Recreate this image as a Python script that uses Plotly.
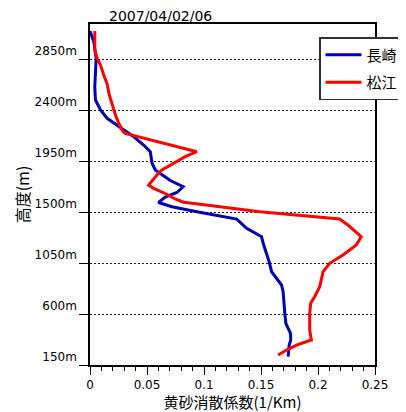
import plotly.graph_objects as go

# 長崎 (Nagasaki) profile: height (m) and extinction coefficient (1/Km)
nagasaki_height = [3097, 3003, 2856, 2606, 2488, 2400, 2327, 2268, 2224, 2165, 2091, 2032,
                   1930, 1871, 1778, 1723, 1672, 1632, 1584, 1547, 1503, 1438, 1356, 1312,
                   1282, 1224, 1136, 1059, 973, 915, 856, 797, 694, 606, 518, 474, 430,
                   371, 326, 223]
nagasaki_value = [0.0000, 0.0033, 0.0054, 0.0042, 0.0048, 0.0092, 0.0150, 0.0238, 0.0295,
                  0.0383, 0.0470, 0.0529, 0.0544, 0.0573, 0.0704, 0.0817, 0.0762, 0.0660,
                  0.0601, 0.0719, 0.0937, 0.1287, 0.1374, 0.1447, 0.1505, 0.1519, 0.1549,
                  0.1572, 0.1593, 0.1636, 0.1680, 0.1694, 0.1700, 0.1709, 0.1718, 0.1738,
                  0.1759, 0.1761, 0.1747, 0.1738]

# 松江 (Matsue) profile
matsue_height = [3097, 2930, 2856, 2797, 2709, 2630, 2532, 2444, 2356, 2283, 2209, 2193,
                 2032, 1988, 1930, 1871, 1827, 1738, 1709, 1659, 1615, 1586, 1568, 1503,
                 1438, 1385, 1282, 1209, 1121, 1047, 971, 841, 753, 694, 606, 459, 371,
                 326, 282, 238]
matsue_value = [0.0042, 0.0042, 0.0063, 0.0092, 0.0121, 0.0150, 0.0170, 0.0194, 0.0223,
                0.0252, 0.0290, 0.0310, 0.0937, 0.0835, 0.0733, 0.0631, 0.0587, 0.0514,
                0.0558, 0.0669, 0.0747, 0.0820, 0.0966, 0.1490, 0.2190, 0.2262, 0.2379,
                0.2336, 0.2219, 0.2102, 0.2044, 0.2015, 0.1971, 0.1936, 0.1927, 0.1927,
                0.1942, 0.1811, 0.1724, 0.1650]

height_ticks = [150, 600, 1050, 1500, 1950, 2400, 2850]
height_tick_labels = ["150m", "600m", "1050m", "1500m", "1950m", "2400m", "2850m"]
title_text = "2007/04/02/06"
x_title = "黄砂消散係数(1/Km)"
y_title = "高度(m)"

FONT = "Noto Sans CJK JP"
NUMFONT = "DejaVu Sans"

fig = go.Figure()
fig.add_trace(go.Scatter(x=nagasaki_value, y=nagasaki_height, mode="lines", name="長崎",
                         legendgroup="a",
                         line=dict(color="#0000b4", width=3)))
fig.add_trace(go.Scatter(x=matsue_value, y=matsue_height, mode="lines", name="松江",
                         legendgroup="b",
                         line=dict(color="#ff0000", width=3)))

# page body has an 8px margin; figure is sized so the plot lands at 90..375 x 24..365
fig.update_layout(
    width=398, height=404,
    margin=dict(l=82, r=31, t=16, b=47, autoexpand=False),
    paper_bgcolor="white", plot_bgcolor="white",
    font=dict(family=FONT, size=14, color="black"),
    showlegend=True,
    legend=dict(x=(319 - 90) / 285, y=(365 - 37) / 341, xanchor="left", yanchor="top",
                bgcolor="white", bordercolor="#333", borderwidth=1.5,
                font=dict(family=FONT, size=15), itemwidth=36,
                tracegroupgap=5),
    annotations=[dict(text=title_text, xref="paper", yref="paper", x=(160 - 90) / 285, y=1,
                      xanchor="center", yanchor="bottom", yshift=-2, showarrow=False,
                      font=dict(family=NUMFONT, size=14))],
)
fig.update_xaxes(range=[0, 0.25], dtick=0.05, tick0=0, showgrid=False, zeroline=False,
                 ticks="outside", ticklen=8, tickwidth=1, tickcolor="black",
                 minor=dict(dtick=0.01, ticks="outside", ticklen=4, tickcolor="black", showgrid=False),
                 showline=True, linecolor="black", linewidth=1.5, mirror=True,
                 automargin=False,
                 title=dict(text=x_title, font=dict(family=FONT, size=15), standoff=2),
                 tickfont=dict(family=NUMFONT, size=12))
fig.update_yaxes(range=[150, 3159], tickvals=height_ticks, ticktext=height_tick_labels,
                 showgrid=True, gridcolor="#222", gridwidth=1, griddash="2px,2px",
                 zeroline=False, ticks="outside", ticklen=9, tickcolor="black",
                 ticklabelshift=-8, automargin=False,
                 showline=True, linecolor="black", linewidth=1.5, mirror=True,
                 title=dict(text=y_title, font=dict(family=FONT, size=16), standoff=1),
                 tickfont=dict(family=NUMFONT, size=12))

fig.write_html("out.html")
